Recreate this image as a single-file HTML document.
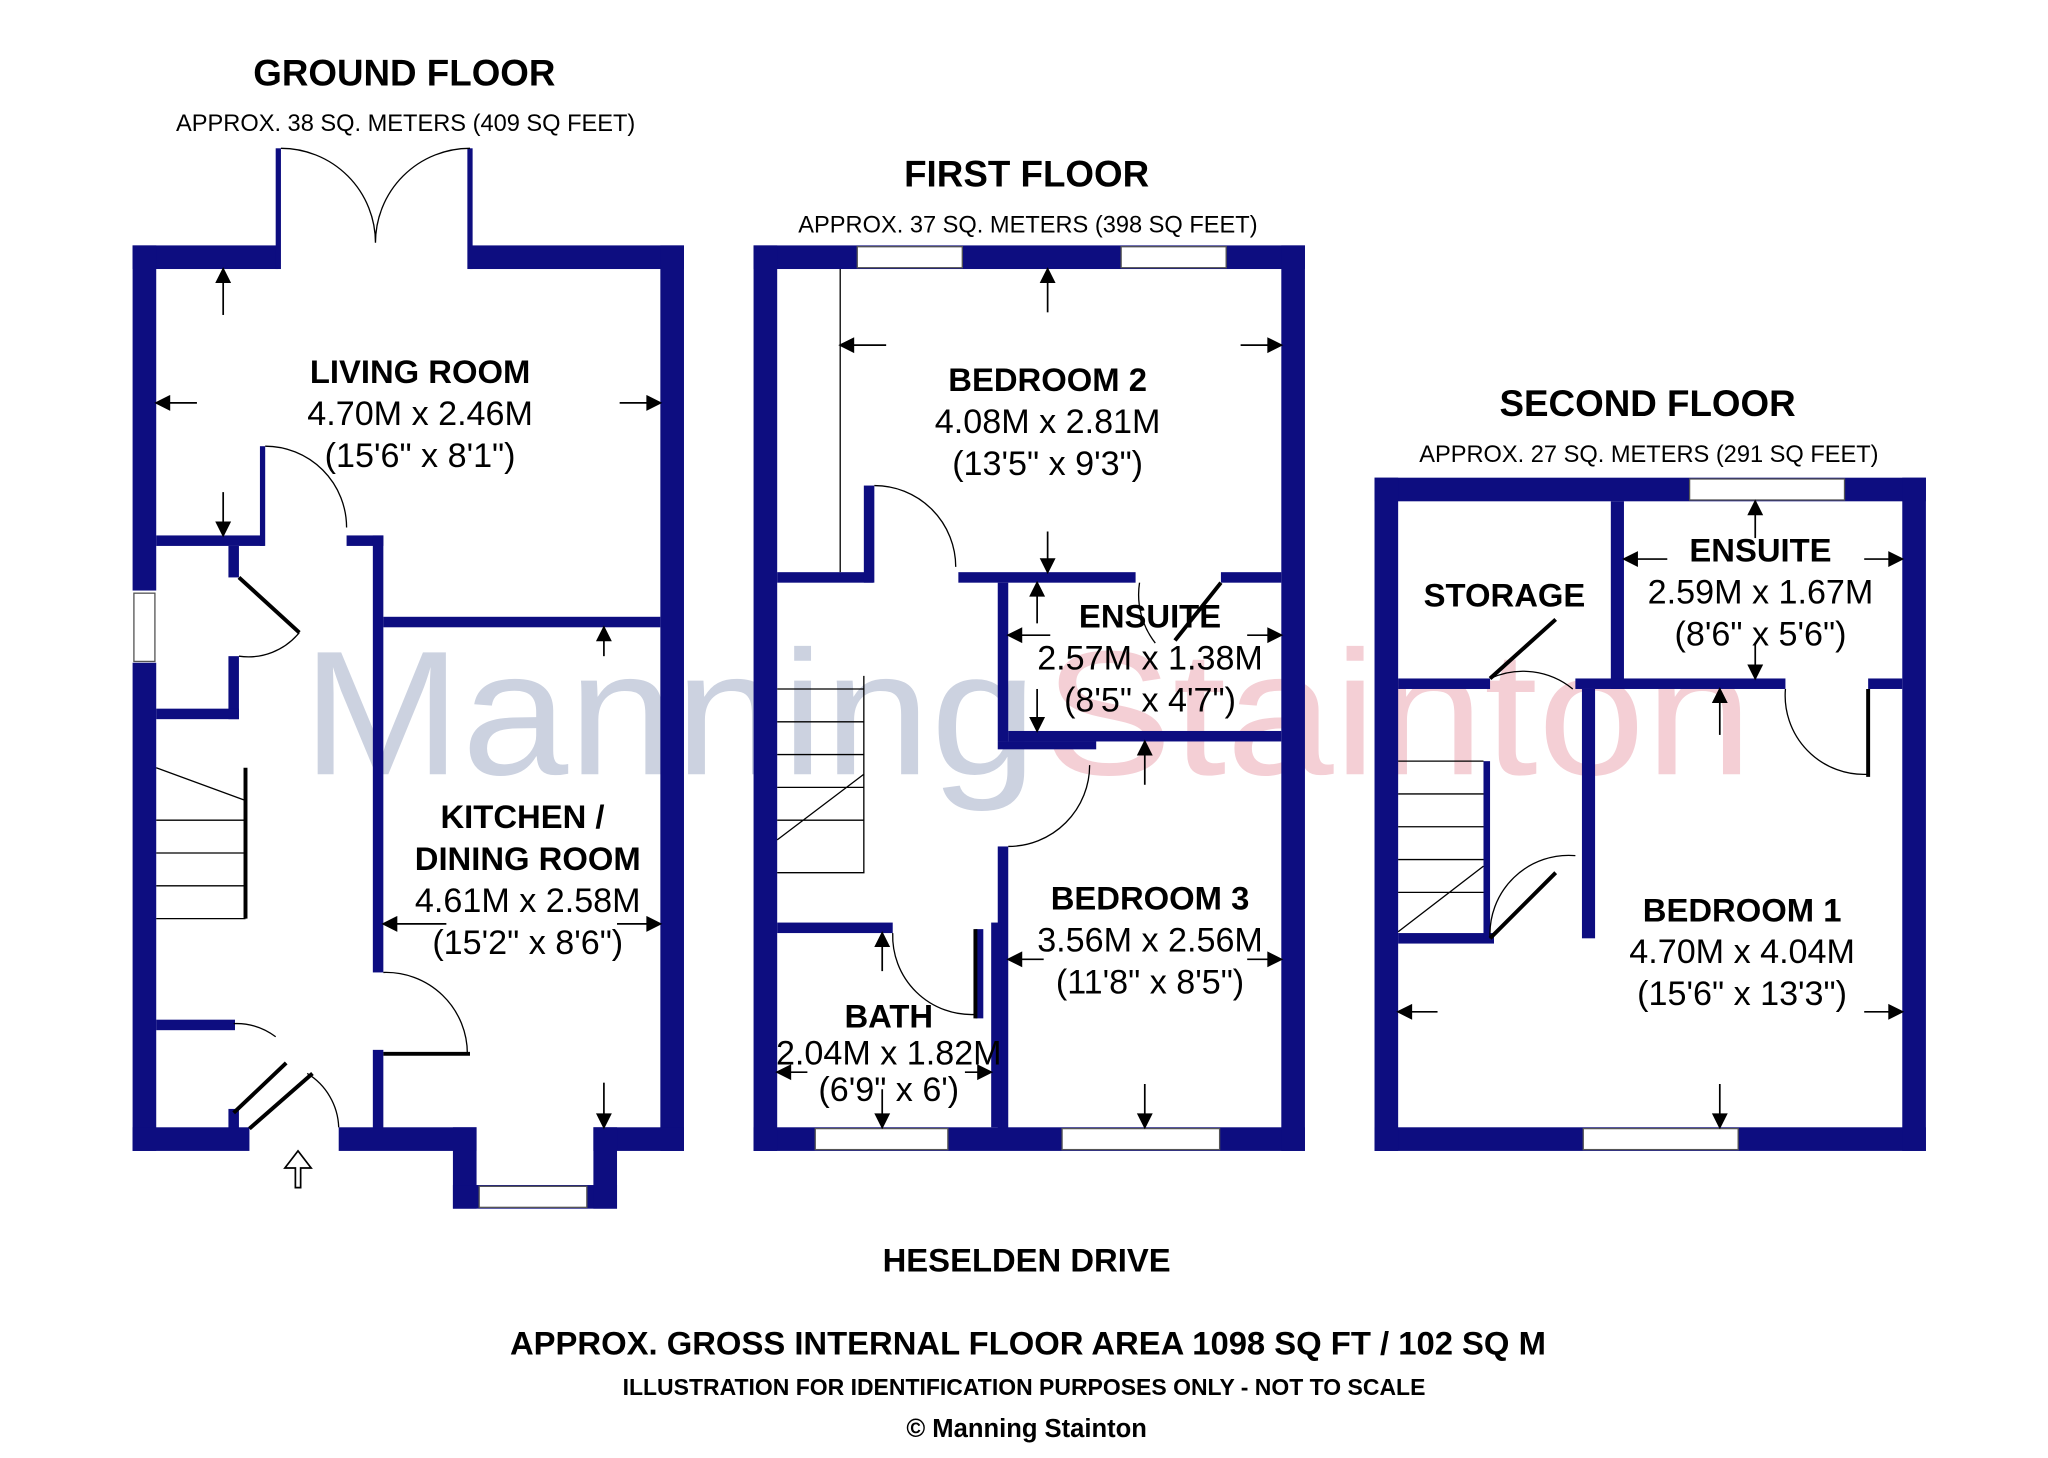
<!DOCTYPE html>
<html><head><meta charset="utf-8"><style>
html,body{margin:0;padding:0;background:#fff}
svg{display:block}
text{font-family:"Liberation Sans",sans-serif}
.h{font-weight:bold;font-size:28px}
.b{font-weight:bold;font-size:25px}
.t{font-size:26px}
.s{font-size:18px}
</style></head><body>
<svg width="2048" height="1458" viewBox="0 0 1560 1111" preserveAspectRatio="none" xmlns="http://www.w3.org/2000/svg">
<g font-size="135" font-family="Liberation Sans,sans-serif">
<text x="230" y="590" fill="#ccd2e0" textLength="560" lengthAdjust="spacingAndGlyphs">Manning</text>
<text x="795" y="590" fill="#f4cfd5" textLength="540" lengthAdjust="spacingAndGlyphs">Stainton</text>
</g>
<g fill="#0d0d80">
<rect x="101" y="187" width="111" height="18"/><rect x="358" y="187" width="163" height="18"/>
<rect x="210" y="113" width="4" height="92"/><rect x="356" y="113" width="4" height="92"/>
<rect x="101" y="187" width="18" height="263"/><rect x="101" y="505" width="18" height="372"/>
<rect x="503" y="187" width="18" height="690"/>
<rect x="101" y="859" width="89" height="18"/><rect x="258" y="859" width="105" height="18"/>
<rect x="345" y="859" width="18" height="62"/><rect x="345" y="903" width="125" height="18"/>
<rect x="452" y="859" width="69" height="18"/><rect x="452" y="859" width="18" height="62"/>
<rect x="119" y="408" width="82" height="8"/><rect x="198" y="340" width="4" height="76"/>
<rect x="264" y="408" width="28" height="8"/>
<rect x="284" y="408" width="8" height="333"/><rect x="284" y="800" width="8" height="60"/>
<rect x="292" y="470" width="211" height="8"/>
<rect x="174" y="416" width="8" height="24"/><rect x="174" y="500" width="8" height="48"/>
<rect x="119" y="540" width="63" height="8"/>
<rect x="119" y="777" width="60" height="8"/><rect x="174" y="845" width="8" height="15"/>
<rect x="574" y="187" width="420" height="18"/><rect x="574" y="859" width="420" height="18"/>
<rect x="574" y="187" width="18" height="690"/><rect x="976" y="187" width="18" height="690"/>
<rect x="592" y="436" width="73" height="8"/><rect x="658" y="370" width="8" height="74"/>
<rect x="730" y="436" width="135" height="8"/><rect x="930" y="436" width="46" height="8"/>
<rect x="760" y="444" width="8" height="121"/><rect x="768" y="557" width="208" height="8"/>
<rect x="760" y="565" width="75" height="6"/>
<rect x="760" y="645" width="8" height="215"/>
<rect x="592" y="703" width="88" height="8"/><rect x="743" y="708" width="6" height="68"/>
<rect x="755" y="703" width="8" height="156"/>
<rect x="1047" y="364" width="420" height="18"/><rect x="1047" y="859" width="420" height="18"/>
<rect x="1047" y="364" width="18" height="513"/><rect x="1449" y="364" width="18" height="513"/>
<rect x="1227" y="382" width="10" height="143"/>
<rect x="1065" y="517" width="70" height="8"/><rect x="1200" y="517" width="160" height="8"/>
<rect x="1423" y="517" width="26" height="8"/>
<rect x="1205" y="525" width="10" height="190"/>
<rect x="1065" y="711" width="73" height="8"/><rect x="1130" y="580" width="5" height="135"/>
</g>
<g fill="#fff" stroke="#555" stroke-width="1">
<rect x="102" y="452" width="16" height="52"/>
<rect x="653" y="188" width="80" height="16"/><rect x="854" y="188" width="80" height="16"/>
<rect x="621" y="860" width="101" height="16"/><rect x="809" y="860" width="120" height="16"/>
<rect x="1287" y="365" width="118" height="16"/><rect x="1206" y="860" width="118" height="16"/>
<rect x="365" y="904" width="82" height="16"/>
</g>
<g stroke="#000" fill="none" stroke-width="1">
<path d="M214 113 A72 72 0 0 1 286 185 M358 113 A72 72 0 0 0 286 185"/>
<path d="M202 340 A62 62 0 0 1 264 402"/>
<path d="M182 500 A50 50 0 0 0 228 482"/>
<path d="M292 741 A62 62 0 0 1 356 803"/>
<path d="M258 859 A50 50 0 0 0 234 818 M178 780 A50 50 0 0 1 210 790"/>
<path d="M666 370 A62 62 0 0 1 728 432"/>
<path d="M768 645 A62 62 0 0 0 830 583"/>
<path d="M680 711 A60 60 0 0 0 743 773"/>
<path d="M868 444 A60 60 0 0 0 880 490"/>
<path d="M1135 517 A60 60 0 0 1 1198 525"/>
<path d="M1360 525 A60 60 0 0 0 1423 590"/>
<path d="M1135 715 A60 60 0 0 1 1200 652"/>
<path d="M640 205 V436"/>
<path d="M119 585 L187 610 M119 625H187M119 650H187M119 675H187M119 700H187"/>
<path d="M592 525H658M592 550H658M592 575H658M592 600H658M592 625H658M592 665H658V515 M592 640 L658 590"/>
<path d="M1065 580H1130M1065 605H1130M1065 630H1130M1065 655H1130M1065 680H1130 M1065 710 L1130 660"/>
</g>
<g stroke="#000" stroke-width="3">
<path d="M182 440 L228 482 M187 700V585 M178 848 L218 810 M190 860 L238 818 M292 803H358"/>
<path d="M930 444 L895 488 M1135 517 L1185 472 M1135 715 L1185 665 M1423 525V592 M743 776V708"/>
</g>
<g stroke="#000" stroke-width="1.3" fill="#000">
<path d="M170 240V205"/><path d="M165 215L170 205L175 215Z"/>
<path d="M119 307H150"/><path d="M129 302L119 307L129 312Z"/>
<path d="M503 307H472"/><path d="M493 302L503 307L493 312Z"/>
<path d="M170 375V408"/><path d="M165 398L170 408L175 398Z"/>
<path d="M460 478V500"/><path d="M455 488L460 478L465 488Z"/>
<path d="M292 704H340"/><path d="M302 699L292 704L302 709Z"/>
<path d="M503 704H470"/><path d="M493 699L503 704L493 709Z"/>
<path d="M460 825V859"/><path d="M455 849L460 859L465 849Z"/>
<path d="M798 205V238"/><path d="M793 215L798 205L803 215Z"/>
<path d="M640 263H675"/><path d="M650 258L640 263L650 268Z"/>
<path d="M976 263H945"/><path d="M966 258L976 263L966 268Z"/>
<path d="M798 405V436"/><path d="M793 426L798 436L803 426Z"/>
<path d="M790 444V475"/><path d="M785 454L790 444L795 454Z"/>
<path d="M790 525V557"/><path d="M785 547L790 557L795 547Z"/>
<path d="M768 484H800"/><path d="M778 479L768 484L778 489Z"/>
<path d="M976 484H950"/><path d="M966 479L976 484L966 489Z"/>
<path d="M872 565V598"/><path d="M867 575L872 565L877 575Z"/>
<path d="M768 731H795"/><path d="M778 726L768 731L778 736Z"/>
<path d="M976 731H950"/><path d="M966 726L976 731L966 736Z"/>
<path d="M872 826V859"/><path d="M867 849L872 859L877 849Z"/>
<path d="M672 711V740"/><path d="M667 721L672 711L677 721Z"/>
<path d="M672 830V859"/><path d="M667 849L672 859L677 849Z"/>
<path d="M592 817H615"/><path d="M602 812L592 817L602 822Z"/>
<path d="M755 817H735"/><path d="M745 812L755 817L745 822Z"/>
<path d="M1337 382V410"/><path d="M1332 392L1337 382L1342 392Z"/>
<path d="M1337 490V517"/><path d="M1332 507L1337 517L1342 507Z"/>
<path d="M1237 426H1270"/><path d="M1247 421L1237 426L1247 431Z"/>
<path d="M1449 426H1420"/><path d="M1439 421L1449 426L1439 431Z"/>
<path d="M1310 525V560"/><path d="M1305 535L1310 525L1315 535Z"/>
<path d="M1065 771H1095"/><path d="M1075 766L1065 771L1075 776Z"/>
<path d="M1449 771H1420"/><path d="M1439 766L1449 771L1439 776Z"/>
<path d="M1310 826V859"/><path d="M1305 849L1310 859L1315 849Z"/>
</g>
<path d="M225 905V890H217L227 877L237 890H229V905Z" fill="#fff" stroke="#000" stroke-width="1.3"/>
<g text-anchor="middle" fill="#000">
<text class="h" x="308" y="65">GROUND FLOOR</text>
<text class="s" x="309" y="100">APPROX. 38 SQ. METERS (409 SQ FEET)</text>
<text class="h" x="782" y="142">FIRST FLOOR</text>
<text class="s" x="783" y="177">APPROX. 37 SQ. METERS (398 SQ FEET)</text>
<text class="h" x="1255" y="317">SECOND FLOOR</text>
<text class="s" x="1256" y="352">APPROX. 27 SQ. METERS (291 SQ FEET)</text>
<text class="b" x="320" y="292">LIVING ROOM</text>
<text class="t" x="320" y="324">4.70M x 2.46M</text>
<text class="t" x="320" y="356">(15'6" x 8'1")</text>
<text class="b" x="398" y="631">KITCHEN /</text>
<text class="b" x="402" y="663">DINING ROOM</text>
<text class="t" x="402" y="695">4.61M x 2.58M</text>
<text class="t" x="402" y="727">(15'2" x 8'6")</text>
<text class="b" x="798" y="298">BEDROOM 2</text>
<text class="t" x="798" y="330">4.08M x 2.81M</text>
<text class="t" x="798" y="362">(13'5" x 9'3")</text>
<text class="b" x="876" y="478">ENSUITE</text>
<text class="t" x="876" y="510">2.57M x 1.38M</text>
<text class="t" x="876" y="542">(8'5" x 4'7")</text>
<text class="b" x="876" y="693">BEDROOM 3</text>
<text class="t" x="876" y="725">3.56M x 2.56M</text>
<text class="t" x="876" y="757">(11'8" x 8'5")</text>
<text class="b" x="677" y="783" font-size="22">BATH</text>
<text class="t" x="677" y="811" font-size="20.5">2.04M x 1.82M</text>
<text class="t" x="677" y="839" font-size="20.5">(6'9" x 6')</text>
<text class="b" x="1146" y="462">STORAGE</text>
<text class="b" x="1341" y="428">ENSUITE</text>
<text class="t" x="1341" y="460">2.59M x 1.67M</text>
<text class="t" x="1341" y="492">(8'6" x 5'6")</text>
<text class="b" x="1327" y="702">BEDROOM 1</text>
<text class="t" x="1327" y="734">4.70M x 4.04M</text>
<text class="t" x="1327" y="766">(15'6" x 13'3")</text>
<text class="b" x="782" y="969" font-size="26">HESELDEN DRIVE</text>
<text class="b" x="783" y="1032" font-size="27">APPROX. GROSS INTERNAL FLOOR AREA 1098 SQ FT / 102 SQ M</text>
<text x="780" y="1063" font-size="17.5" font-weight="bold">ILLUSTRATION FOR IDENTIFICATION PURPOSES ONLY - NOT TO SCALE</text>
<text x="782" y="1095" font-size="19.5" font-weight="bold">© Manning Stainton</text>
</g>
</svg>
</body></html>
